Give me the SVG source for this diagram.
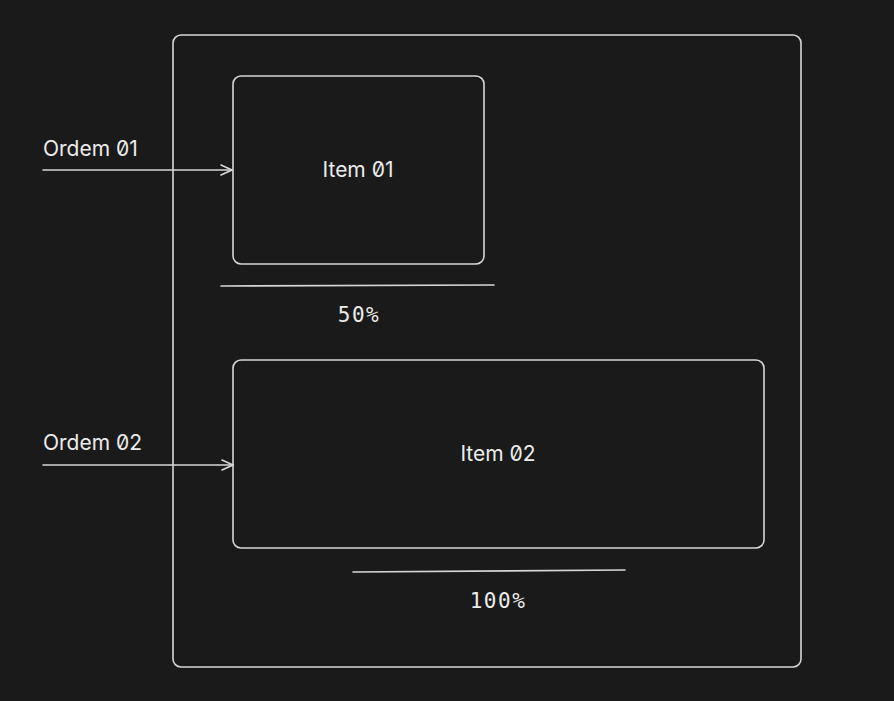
<svg xmlns="http://www.w3.org/2000/svg" width="894" height="701" viewBox="0 0 894 701">
<defs>
<style>
.box{fill:none;stroke:#d6d6d6;stroke-width:1.6;}
.ln{fill:none;stroke:#d6d6d6;stroke-width:1.6;stroke-linecap:round;}
.lbl{font-family:Inter,"Liberation Sans",sans-serif;font-size:21px;fill:#ececec;font-feature-settings:"zero" 1;}
.mono{font-family:"DejaVu Sans Mono","Liberation Mono",monospace;font-size:21px;letter-spacing:1.5px;fill:#ececec;}
</style>
<marker id="arr" markerWidth="14" markerHeight="14" refX="12" refY="7" orient="auto" markerUnits="userSpaceOnUse">
<path d="M1,2 L12,7 L1,12" fill="none" stroke="#d6d6d6" stroke-width="1.6" stroke-linecap="round" stroke-linejoin="round"/>
</marker>
</defs>
<rect width="894" height="701" fill="#1a1a1a"/>
<g id="container"><rect class="box" x="173" y="35" width="628" height="632" rx="8"/></g>
<g id="item01">
<rect class="box" x="233" y="76" width="251" height="188" rx="8"/>
<text class="lbl" x="358" y="177" text-anchor="middle">Item 01</text>
</g>
<g id="item02">
<rect class="box" x="233" y="360" width="531" height="188" rx="8"/>
<text class="lbl" x="498" y="461" text-anchor="middle">Item 02</text>
</g>
<g id="ordem01"><text class="lbl" x="43" y="156">Ordem 01</text></g>
<g id="ordem02"><text class="lbl" x="43" y="450">Ordem 02</text></g>
<g id="progress01">
<line class="ln" x1="221" y1="286" x2="494" y2="285"/>
<text class="mono" x="359" y="322" text-anchor="middle">50%</text>
</g>
<g id="progress02">
<line class="ln" x1="353" y1="572" x2="625" y2="570"/>
<text class="mono" x="498" y="608" text-anchor="middle">100%</text>
</g>
<g id="connectors">
<line class="ln" x1="43" y1="170" x2="232" y2="170" marker-end="url(#arr)"/>
<line class="ln" x1="43" y1="465" x2="233" y2="465" marker-end="url(#arr)"/>
</g>
</svg>
